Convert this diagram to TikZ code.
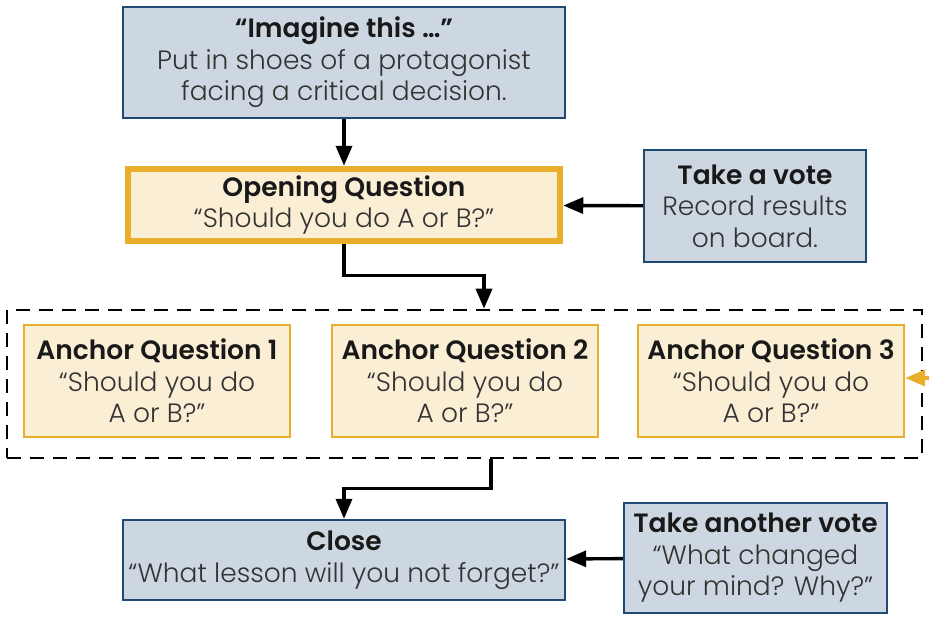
\documentclass[tikz,border=0pt]{standalone}
\usepackage{fontspec}
\setmainfont{Poppins}[UprightFont=* Light, BoldFont=* SemiBold]
\usepackage{xcolor}
\usetikzlibrary{arrows.meta, calc, positioning}
\definecolor{slateblue}{HTML}{CDD7E1}
\definecolor{navyline}{HTML}{1F4A73}
\definecolor{amber}{HTML}{E9AE2B}
\definecolor{creamfill}{HTML}{FAEED4}
\definecolor{inktext}{HTML}{333333}

\begin{document}
\begin{tikzpicture}[x=1pt, y=-1pt,
    box/.style={draw, align=center, inner sep=0pt, text=inktext,
        font=\fontsize{26.5}{31.5}\selectfont},
    bluebox/.style={box, fill=slateblue, draw=navyline, line width=2.4pt},
    creambox/.style={box, fill=creamfill, draw=amber, line width=2.4pt},
    flow/.style={-{Triangle[length=20pt, width=16pt]}, line width=3.4pt},
    hd/.style={text=black!90}]
    \useasboundingbox (0,0) rectangle (929,616);

    % top of the lesson
    \node[bluebox, minimum width=442pt, minimum height=111pt] (imagine) at (344,62.5)
        {{\bfseries\color{black!90}“Imagine this …”}\\Put in shoes of a protagonist\\facing a critical decision.};
    \node[creambox, line width=6.5pt, minimum width=432pt, minimum height=72pt] (opening) at (344,205)
        {{\bfseries\color{black!90}Opening Question}\\“Should you do A or B?”};
    \node[bluebox, minimum width=222pt, minimum height=112pt] (vote) at (755,206)
        {{\bfseries\color{black!90}Take a vote}\\Record results\\on board.};

    % anchor questions
    \node[draw, dashed, dash pattern=on 14pt off 9pt, line width=2.6pt,
        minimum width=915pt, minimum height=148pt, inner sep=0pt] (anchors) at (464.5,384) {};
    \foreach \n/\x in {1/157, 2/465, 3/771} {
        \node[creambox, minimum width=266pt, minimum height=112pt] (anchor\n) at (\x,381)
            {{\bfseries\color{black!90}Anchor Question \n}\\“Should you do\\A or B?”};
    }
    \coordinate (edge) at (929,378);

    % closing
    \node[bluebox, minimum width=442pt, minimum height=80pt] (close) at (344,560)
        {{\bfseries\color{black!90}Close}\\“What lesson will you not forget?”};
    \node[bluebox, minimum width=263pt, minimum height=110pt] (recast) at (755.5,558)
        {{\bfseries\color{black!90}Take another vote}\\“What changed\\your mind? Why?”};

    % connectors
    \draw[flow] (imagine) -- (opening);
    \draw[flow] (vote) -- (opening);
    \draw[flow] (opening.south) -- ++(0,31) -| ([xshift=19.5pt]anchors.north);
    \draw[flow] ([xshift=26.5pt]anchors.south) -- ++(0,29) -| (close.north);
    \draw[flow] (recast) -- (close);
    \draw[flow, amber] (edge) -- (anchor3.east |- edge);
\end{tikzpicture}
\end{document}
